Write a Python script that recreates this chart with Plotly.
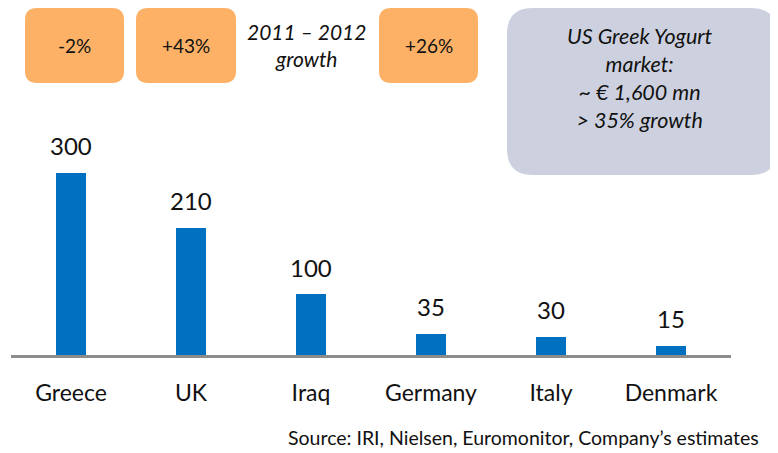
import plotly.graph_objects as go

countries = ["Greece", "UK", "Iraq", "Germany", "Italy", "Denmark"]
values = [300, 210, 100, 35, 30, 15]
growth_labels = ["-2%", "+43%", "+26%"]
growth_title = "2011 – 2012<br>growth"
market_text = "US Greek Yogurt<br>market:<br>~ € 1,600 mn<br>> 35% growth"
source_text = "Source: IRI, Nielsen, Euromonitor, Company’s estimates"

# page body has an 8px margin; work in reference pixels and subtract it
OFF = 8
W, H = 778 - OFF, 453 - OFF
ML, MR, MT, MB = 11 - OFF, 47, 100 - OFF, 98
PW, PH = W - ML - MR, H - MT - MB
FONT = "Lato"

def px(x):
    return (x - OFF - ML) / PW

def py(y):
    return (H - MB - (y - OFF)) / PH

def rrect(x0, y0, x1, y1, r):
    X0, X1 = px(x0), px(x1)
    Y0, Y1 = py(y0), py(y1)
    rx, ry = r / PW, r / PH
    return (f"M {X0+rx},{Y0} L {X1-rx},{Y0} Q {X1},{Y0} {X1},{Y0-ry} "
            f"L {X1},{Y1+ry} Q {X1},{Y1} {X1-rx},{Y1} L {X0+rx},{Y1} "
            f"Q {X0},{Y1} {X0},{Y1+ry} L {X0},{Y0-ry} Q {X0},{Y0} {X0+rx},{Y0} Z")

fig = go.Figure()
fig.add_trace(go.Bar(
    x=countries, y=values, width=0.245,
    marker=dict(color="#0070C0", line=dict(width=0)),
    hoverinfo="skip",
))

annotations = []
for c, v in zip(countries, values):
    annotations.append(dict(
        x=c, y=v, xref="x", yref="y", text=str(v), showarrow=False,
        yanchor="middle", yshift=27, font=dict(size=24, color="#111111", family=FONT)))

shapes = []
orange = "#FDB166"
boxes = [(25, 8, 124, 83), (136, 8, 236, 83), (379, 8, 478, 83)]
for (x0, y0, x1, y1), lab in zip(boxes, growth_labels):
    shapes.append(dict(type="path", path=rrect(x0, y0, x1, y1, 12), xref="paper", yref="paper",
                       fillcolor=orange, line=dict(width=0), layer="below"))
    annotations.append(dict(x=px((x0 + x1) / 2), y=py(45), xref="paper", yref="paper",
                            text=lab, showarrow=False, xanchor="center", yanchor="middle",
                            font=dict(size=19, color="#111111", family=FONT)))

annotations.append(dict(x=px(306), y=py(45), xref="paper", yref="paper",
                        text="<i>" + growth_title + "</i>",
                        showarrow=False, xanchor="center", yanchor="middle",
                        font=dict(size=21, color="#111111", family=FONT)))

shapes.append(dict(type="path", path=rrect(507, 8, 777, 175, 26), xref="paper", yref="paper",
                   fillcolor="#CDD1DF", line=dict(width=0), layer="below"))
annotations.append(dict(x=px(640), y=py(78), xref="paper", yref="paper",
                        text="<i>" + market_text + "</i>",
                        showarrow=False, xanchor="center", yanchor="middle",
                        font=dict(size=21.5, color="#111111", family=FONT)))

annotations.append(dict(x=px(761), y=py(437), xref="paper", yref="paper", text=source_text,
                        showarrow=False, xanchor="right", yanchor="middle",
                        font=dict(size=19.5, color="#111111", family=FONT)))

fig.update_layout(
    width=W, height=H,
    margin=dict(l=ML, r=MR, t=MT, b=MB),
    paper_bgcolor="white", plot_bgcolor="white",
    showlegend=False,
    bargap=0,
    xaxis=dict(range=[-0.5, 5.5], showgrid=False, zeroline=False, showline=True,
               linecolor="#8C8C8C", linewidth=3, ticks="", ticklabelstandoff=15,
               tickfont=dict(size=23, color="#111111", family=FONT), fixedrange=True),
    yaxis=dict(range=[0, PH / 0.607], showgrid=False, zeroline=False, showline=False,
               showticklabels=False, ticks="", fixedrange=True),
    shapes=shapes,
    annotations=annotations,
)

fig.write_html("out.html")
